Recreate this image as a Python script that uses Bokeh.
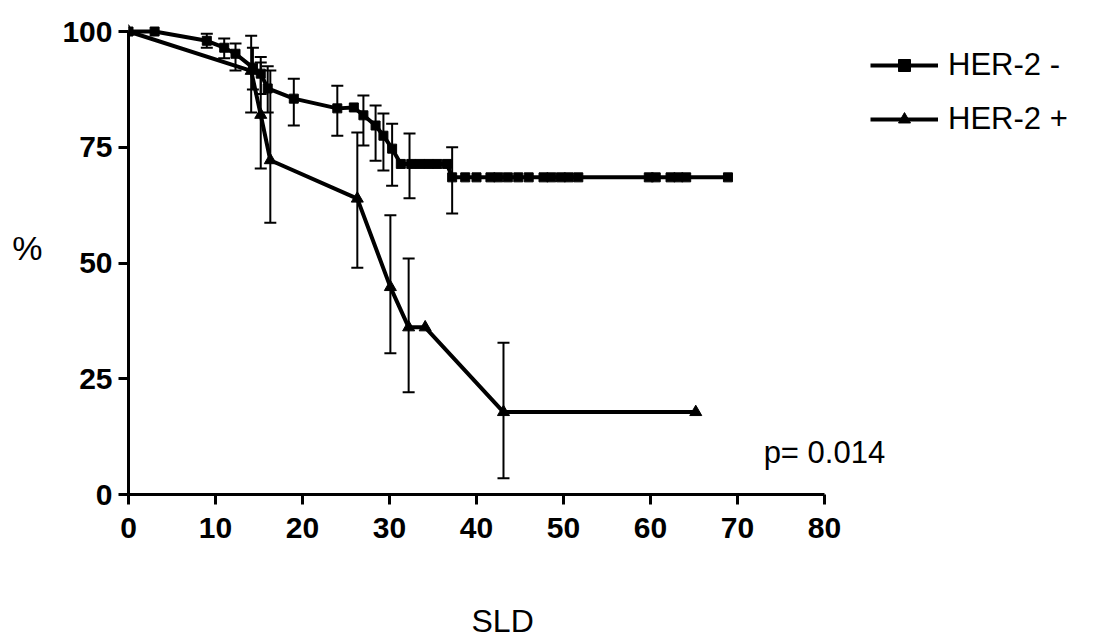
from bokeh.plotting import figure
from bokeh.models import (Range1d, ColumnDataSource, Whisker, TeeHead, Legend,
                          LegendItem, Label, FixedTicker, Title)
from bokeh.embed import file_html
from bokeh.resources import INLINE

# ---- data ----
neg_x = [0, 3, 9, 11, 12.3, 14.3, 15.2, 16, 19, 24, 25.9, 27, 28.4, 29.3, 30.3,
         31.3, 32.5, 33.5, 34.5, 35.5, 36.6, 37.2, 38.7, 40, 41.6, 42.5, 43.6,
         44.8, 46, 47.7, 48.6, 49.7, 50.6, 51.7, 59.8, 60.6, 62.3, 63.2, 64.1, 68.9]
neg_y = [100, 100, 98, 96.5, 95.2, 92.2, 90.9, 87.7, 85.5, 83.4, 83.6, 81.9, 79.7,
         77.5, 74.7, 71.4, 71.4, 71.4, 71.4, 71.4, 71.4, 68.5, 68.5, 68.5, 68.5,
         68.5, 68.5, 68.5, 68.5, 68.5, 68.5, 68.5, 68.5, 68.5, 68.5, 68.5, 68.5,
         68.5, 68.5, 68.5]
neg_err_x = [9, 11, 12.3, 14.3, 15.2, 16, 19, 24, 27, 28.4, 29.3, 30.3, 32.3, 37.2]
neg_err_hi = [99.5, 98.5, 97.4, 96.5, 94.5, 92.5, 89.8, 88.3, 86.2, 84, 82.3, 80.1, 78, 75]
neg_err_lo = [96.5, 94.2, 91.6, 87.5, 86.5, 82.5, 79.7, 77.5, 75.4, 72.1, 70, 66.7, 64, 60.7]

pos_x = [0, 14.1, 15.2, 16.3, 26.3, 30.1, 32.2, 34.1, 43.1, 65.2]
pos_y = [100, 91.5, 82, 72.2, 63.9, 44.8, 36.1, 36.1, 17.8, 17.8]
pos_err_x = [14.1, 15.2, 16.3, 26.3, 30.1, 32.2, 43.1]
pos_err_hi = [99.1, 93.3, 91.6, 78.2, 60.3, 51, 32.8]
pos_err_lo = [82.5, 70.4, 58.7, 49, 30.5, 22.1, 3.5]

x_ticks = [0, 10, 20, 30, 40, 50, 60, 70, 80]
y_ticks = [0, 25, 50, 75, 100]
series_names = ["HER-2 -", "HER-2 +"]
p_text = "p= 0.014"
x_label = "SLD"
y_label = "%"

FONT = "Liberation Sans"

# the frame runs past x=80 so that the legend and the p-value (drawn in the
# plot area) are not clipped; the axes themselves are bounded to 0..80 / 0..100
p = figure(frame_width=962, frame_height=494,
           x_range=Range1d(0, 110.57), y_range=Range1d(0, 106.7),
           output_backend="svg", toolbar_location=None,
           min_border_left=128, min_border_right=0,
           min_border_top=0, min_border_bottom=143)
p.outline_line_color = None
p.xgrid.visible = False
p.ygrid.visible = False
p.background_fill_color = "white"
p.border_fill_color = "white"

for ax in (p.xaxis[0], p.yaxis[0]):
    ax.axis_line_width = 3
    ax.axis_line_color = "black"
    ax.major_tick_line_width = 3
    ax.major_tick_line_color = "black"
    ax.major_tick_out = 10
    ax.major_tick_in = 0
    ax.minor_tick_line_color = None
    ax.major_label_text_font = FONT
    ax.major_label_text_font_style = "bold"
    ax.major_label_text_font_size = "30px"
    ax.major_label_text_color = "black"
p.xaxis.ticker = FixedTicker(ticks=x_ticks)
p.yaxis.ticker = FixedTicker(ticks=y_ticks)
p.xaxis.bounds = (0, 80)
p.yaxis.bounds = (0, 100)
p.xaxis.major_label_standoff = 13
p.yaxis.major_label_standoff = 6

p.yaxis.axis_label = y_label
p.yaxis.axis_label_orientation = "horizontal"
p.yaxis.axis_label_standoff = 17
p.yaxis.axis_label_text_font = FONT
p.yaxis.axis_label_text_font_style = "normal"
p.yaxis.axis_label_text_font_size = "34px"
p.yaxis.axis_label_text_color = "black"

# error bars
src_ne = ColumnDataSource(dict(x=neg_err_x, hi=neg_err_hi, lo=neg_err_lo))
src_pe = ColumnDataSource(dict(x=pos_err_x, hi=pos_err_hi, lo=pos_err_lo))
for s in (src_ne, src_pe):
    w = Whisker(source=s, base="x", upper="hi", lower="lo", line_width=2,
                line_color="black",
                upper_head=TeeHead(size=12, line_width=2, line_color="black"),
                lower_head=TeeHead(size=12, line_width=2, line_color="black"))
    p.add_layout(w)

l1 = p.line(neg_x, neg_y, line_width=4, line_color="black")
m1 = p.scatter(neg_x, neg_y, marker="square", size=9, fill_color="black", line_color="black")
l2 = p.line(pos_x, pos_y, line_width=4, line_color="black")
m2 = p.scatter(pos_x, pos_y, marker="triangle", size=12, fill_color="black", line_color="black")

legend = Legend(items=[LegendItem(label=series_names[0], renderers=[l1, m1]),
                       LegendItem(label=series_names[1], renderers=[l2, m2])],
                location=(742, 357), margin=0, padding=0, spacing=18,
                glyph_width=68, glyph_height=30, label_height=30,
                label_standoff=10, border_line_color=None,
                background_fill_alpha=0,
                label_text_font=FONT, label_text_font_size="31px",
                label_text_color="black")
p.add_layout(legend)

p.add_layout(Label(x=73.0, y=9.1, text=p_text, text_font=FONT, text_font_size="31px",
                   text_align="left", text_baseline="middle", text_color="black"))

xt = Title(text=x_label, align="left", offset=343, standoff=120,
           text_font=FONT, text_font_size="32px", text_font_style="normal",
           text_color="black")
p.add_layout(xt, "below")

open("out.html", "w").write(file_html(p, INLINE))
